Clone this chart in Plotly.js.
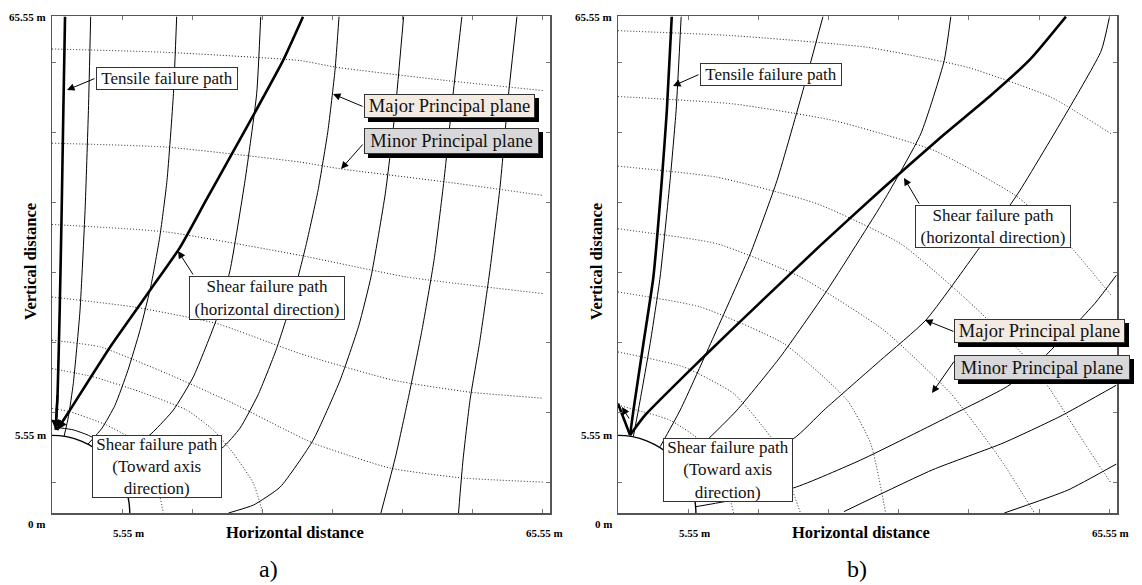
<!DOCTYPE html>
<html>
<head>
<meta charset="utf-8">
<script src="https://cdn.plot.ly/plotly-3.0.1.min.js"></script>
<style>html,body{margin:0;padding:0;background:#fff;}#chart{width:1142px;height:585px;}</style>
</head>
<body>
<div id="chart"></div>
<script>
// ---------- data (metres) ----------
const tunnelRadius = 5.55;
const axisMax = 35.55;
const tickLabelsX = ["0 m", "5.55 m", "65.55 m"];
const tickLabelsY = ["5.55 m", "65.55 m"];
const panelLabels = ["a)", "b)"];

// Panel a : major principal planes (solid)
const aTensileX = [0.93, 0.81, 0.69, 0.55, 0.40, 0.26];
const aTensileY = [35.5, 28.79, 21.64, 14.5, 8.55, 5.95];
const aShearX = [17.92, 16.49, 14.56, 12.85, 10.99, 9.14, 7.0, 4.14, 1.28, 0.36];
const aShearY = [35.5, 32.36, 28.79, 25.71, 22.36, 19.0, 15.93, 11.86, 7.36, 5.93];
const aMaj2X = [2.76, 2.60, 2.36, 2.0, 1.52, 1.17, 0.86];
const aMaj2Y = [35.5, 28.79, 21.64, 14.5, 9.26, 6.88, 5.48];
const aMaj3X = [8.9, 8.67, 8.21, 7.71, 7.07, 6.28, 5.42, 4.5, 3.57, 2.57];
const aMaj3Y = [35.5, 30.0, 23.79, 19.86, 16.29, 13.07, 10.21, 7.71, 6.07, 4.93];
const aMaj4X = [14.9, 14.61, 13.78, 12.71, 11.76, 10.09, 8.66, 7.23, 5.21, 3.95];
const aMaj4Y = [35.5, 29.98, 23.79, 17.36, 13.91, 9.74, 7.36, 5.81, 4.14, 3.9];
const aMaj5X = [20.49, 20.2, 19.7, 18.99, 18.13, 17.13, 15.99, 14.7, 13.42, 12.13, 8.42, 5.0];
const aMaj5Y = [35.5, 31.64, 27.36, 23.07, 19.14, 15.21, 11.64, 8.43, 6.07, 4.64, 2.93, 2.36];
const aMaj6X = [25.1, 24.5, 23.79, 22.78, 21.91, 20.57, 18.64, 16.29, 14.38, 12.6];
const aMaj6Y = [35.5, 28.79, 22.83, 16.93, 13.43, 9.5, 5.21, 1.86, 0.57, 0.0];
const aMaj7X = [29.26, 28.62, 27.98, 27.27, 26.41, 25.48, 24.55, 23.48];
const aMaj7Y = [35.5, 29.86, 23.79, 18.07, 13.07, 8.43, 4.14, 0.0];
const aMaj8X = [33.19, 32.58, 31.98, 31.26, 30.55, 29.84, 29.34, 29.02];
const aMaj8Y = [35.5, 29.86, 23.29, 17.36, 12.36, 8.07, 3.79, 0.0];
// Panel a : minor principal planes (dotted)
const aMin1X = [0, 8.19, 17.71, 20.33, 28.19, 35.1];
const aMin1Y = [33.19, 32.95, 32.36, 31.88, 30.93, 30.21];
const aMin2X = [0, 8.19, 17.71, 20.57, 28.19, 35.1];
const aMin2Y = [26.45, 26.17, 25.1, 24.62, 23.67, 22.71];
const aMin3X = [0, 8.19, 17.71, 25.33, 35.1];
const aMin3Y = [20.64, 20.1, 18.43, 16.88, 15.69];
const aMin4X = [0, 5.81, 11.76, 17.71, 24.36, 29.86, 35.07];
const aMin4Y = [15.45, 14.74, 13.55, 11.4, 9.5, 8.64, 8.21];
const aMin5X = [0, 3.43, 8.19, 12.95, 16.29, 18.64, 24.14, 29.36, 35.07];
const aMin5Y = [12.36, 11.88, 9.98, 7.83, 6.14, 5.0, 3.21, 2.5, 2.21];
const aMin6X = [0, 2.95, 6.29, 9.62, 11.52, 12.95, 14.38, 15.05];
const aMin6Y = [10.33, 9.74, 8.67, 7.36, 5.93, 4.26, 2.12, 0.0];
const aMin7X = [0, 1.29, 3.9, 5.81, 7.0, 7.6, 7.95];
const aMin7Y = [7.48, 7.24, 6.29, 5.21, 3.55, 1.64, 0.0];
// Panel a : path drawn just outside the crown of the tunnel
const aCrownX = [0.5, 1.5, 2.5, 3.3];
const aCrownY = [6.1, 5.95, 5.6, 5.2];

// Panel b : major principal planes (solid)
const bTensileX = [3.83, 3.48, 3.12, 2.52, 1.81, 1.10, 0.86];
const bTensileY = [35.5, 28.79, 23.79, 16.88, 12.12, 7.36, 5.57];
const bTensile2X = [4.5, 4.14, 3.71, 3.0, 2.29, 1.45, 1.10];
const bTensile2Y = [35.5, 28.79, 23.79, 16.88, 12.12, 7.36, 5.5];
const bShearX = [0.86, 1.93, 5.85, 10.14, 14.42, 18.7, 22.98, 26.55, 29.41, 31.91];
const bShearY = [5.57, 7.0, 10.93, 15.07, 19.14, 23.07, 26.86, 29.86, 32.5, 35.5];
const bCrownX = [0.0, 0.86];
const bCrownY = [7.83, 5.57];
const bMaj3X = [14.6, 13.24, 11.33, 9.43, 6.81, 4.43, 3.0];
const bMaj3Y = [35.5, 30.45, 23.79, 18.55, 12.6, 7.36, 4.74];
const bMaj4X = [23.71, 23.24, 21.57, 18.95, 14.9, 11.57, 8.48, 6.33, 4.24];
const bMaj4Y = [35.5, 32.36, 27.12, 22.36, 15.93, 11.17, 7.36, 5.21, 3.57];
const bMaj5X = [35.02, 34.43, 32.05, 28.48, 25.62, 21.93, 18.71, 14.67, 12.52, 5.14];
const bMaj5Y = [35.5, 33.07, 28.79, 22.83, 18.79, 13.79, 10.93, 7.36, 5.33, 2.12];
const bMaj6X = [35.5, 33.98, 30.4, 27.76, 23.76, 17.29, 12.52, 5.55];
const bMaj6Y = [17.0, 15.0, 11.21, 9.07, 7.0, 3.79, 1.8, 0.45];
const bMaj7X = [35.5, 31.48, 27.43, 22.43, 16.1];
const bMaj7Y = [9.14, 6.9, 5.0, 3.1, 0.1];
const bMaj8X = [35.5, 32.05, 27.52];
const bMaj8Y = [3.5, 1.64, 0.0];
// Panel b : minor principal planes (dotted)
const bMin1X = [0, 8.24, 17.76, 24.9, 30.86, 35.14];
const bMin1Y = [34.5, 34.14, 33.31, 31.88, 29.74, 27.12];
const bMin2X = [0, 8.24, 15.38, 22.52, 28.48, 32.05, 35.14];
const bMin2Y = [29.79, 29.26, 28.07, 25.93, 22.6, 19.26, 15.57];
const bMin3X = [0, 7.05, 14.19, 20.14, 24.9, 29.67, 33.24, 35.14];
const bMin3Y = [24.81, 24.02, 22.12, 19.26, 15.21, 10.45, 4.98, 2.12];
const bMin4X = [0, 7.05, 13.0, 18.95, 23.71, 27.29, 29.67];
const bMin4Y = [20.33, 19.26, 16.88, 13.07, 8.55, 3.79, 0.0];
const bMin5X = [0, 5.86, 11.81, 16.33, 18.0, 19.07];
const bMin5Y = [15.81, 14.74, 12.12, 8.07, 4.98, 0.0];
const bMin6X = [0, 4.67, 8.24, 10.86, 11.81, 13.0];
const bMin6Y = [11.52, 10.45, 8.55, 5.45, 3.31, 0.0];
const bMin7X = [0, 3.71, 6.1, 7.52, 8.24];
const bMin7Y = [7.71, 6.64, 4.98, 2.6, 0.0];

// ---------- traces ----------
const traces = [];
function addLine(x, y, ax, kind) {
  const st = {
    thin: {color: '#000', width: 1, dash: 'solid'},
    thick: {color: '#000', width: 2.6, dash: 'solid'},
    dot: {color: '#1a1a1a', width: 1, dash: '1px,2px'}
  }[kind];
  traces.push({
    type: 'scatter', mode: 'lines', x: x, y: y,
    xaxis: ax === 'a' ? 'x' : 'x2', yaxis: ax === 'a' ? 'y' : 'y2',
    line: {color: st.color, width: st.width, dash: st.dash, shape: 'spline', smoothing: 0.5},
    hoverinfo: 'skip', showlegend: false
  });
}
[[aMin1X,aMin1Y],[aMin2X,aMin2Y],[aMin3X,aMin3Y],[aMin4X,aMin4Y],[aMin5X,aMin5Y],[aMin6X,aMin6Y],[aMin7X,aMin7Y]]
  .forEach(p => addLine(p[0], p[1], 'a', 'dot'));
[[aMaj2X,aMaj2Y],[aMaj3X,aMaj3Y],[aMaj4X,aMaj4Y],[aMaj5X,aMaj5Y],[aMaj6X,aMaj6Y],[aMaj7X,aMaj7Y],[aMaj8X,aMaj8Y],[aCrownX,aCrownY]]
  .forEach(p => addLine(p[0], p[1], 'a', 'thin'));
addLine(aTensileX, aTensileY, 'a', 'thick');
addLine(aShearX, aShearY, 'a', 'thick');

[[bMin1X,bMin1Y],[bMin2X,bMin2Y],[bMin3X,bMin3Y],[bMin4X,bMin4Y],[bMin5X,bMin5Y],[bMin6X,bMin6Y],[bMin7X,bMin7Y]]
  .forEach(p => addLine(p[0], p[1], 'b', 'dot'));
[[bTensile2X,bTensile2Y],[bMaj3X,bMaj3Y],[bMaj4X,bMaj4Y],[bMaj5X,bMaj5Y],[bMaj6X,bMaj6Y],[bMaj7X,bMaj7Y],[bMaj8X,bMaj8Y]]
  .forEach(p => addLine(p[0], p[1], 'b', 'thin'));
addLine(bTensileX, bTensileY, 'b', 'thick');
addLine(bShearX, bShearY, 'b', 'thick');
addLine(bCrownX, bCrownY, 'b', 'thick');

// ---------- layout ----------
const W = 1142, H = 585;
const px = v => v / W, py = v => 1 - v / H;
function axisStyle(domain, anchor, isY) {
  return {
    domain: domain, anchor: anchor, range: [0, axisMax],
    showline: true, mirror: 'ticks', linecolor: '#555', linewidth: 1.5,
    ticks: 'inside', ticklen: 4, tickcolor: '#777', tickwidth: 1,
    tick0: isY ? 2.2 : 0, dtick: 5,
    showticklabels: false, showgrid: false, zeroline: false, fixedrange: true
  };
}
const serif = 'Liberation Serif';
const ann = [];
const shapes = [];
// box given by its pixel rectangle (left, top, right, bottom)
function box(text, l, t, r, b, bg, shadow, size) {
  const bw = 1, bp = 0;
  if (shadow) {
    shapes.push({type: 'rect', xref: 'paper', yref: 'paper', x0: px(l + 4), x1: px(r + 4), y0: py(b + 4), y1: py(t + 4),
      fillcolor: '#000', line: {width: 0}, layer: 'above'});
  }
  ann.push({xref: 'paper', yref: 'paper', x: px((l + r) / 2), y: py((t + b) / 2), xanchor: 'center', yanchor: 'middle',
    text: text, showarrow: false, width: (r - l) - 2 * (bw + bp), height: (b - t) - 2 * (bw + bp),
    font: {family: serif, size: size, color: '#111'}, borderpad: bp, borderwidth: bw,
    bgcolor: bg, bordercolor: '#333', align: 'center', valign: 'middle'});
}
// arrow from tail pixel to head pixel
function arrow(tx, ty, hx, hy) {
  ann.push({xref: 'paper', yref: 'paper', x: px(hx), y: py(hy), ax: tx - hx, ay: ty - hy, axref: 'pixel', ayref: 'pixel',
    text: '', showarrow: true, arrowhead: 2, arrowsize: 1.5, arrowwidth: 1, arrowcolor: '#000'});
}
// data-space arrowheads at the end of the thick failure paths
function dataArrow(ax, x, y) {
  const n = x.length;
  const xr = ax === 'a' ? 'x' : 'x2', yr = ax === 'a' ? 'y' : 'y2';
  ann.push({xref: xr, yref: yr, axref: xr, ayref: yr, x: x[n - 1], y: y[n - 1], ax: x[n - 2], ay: y[n - 2], text: '',
    showarrow: true, arrowhead: 2, arrowsize: 0.9, arrowwidth: 2.2, arrowcolor: '#000'});
}
// panel a
box('Tensile failure path', 96, 67, 238, 90, '#fff', false, 17);
arrow(96, 78, 67, 90);
box('Major Principal plane', 364, 94, 535, 118, '#f3ebe2', true, 18.5);
arrow(364, 107, 333, 94);
box('Minor Principal plane', 364, 128, 539, 154, '#d8d8da', true, 18.5);
arrow(364, 143, 341, 169);
box('Shear failure path<br>(horizontal direction)', 189, 276, 345, 320, '#fff', false, 17);
arrow(194, 276, 178, 251);
box('Shear failure path<br>(Toward axis<br>direction)', 92, 435, 222, 498, '#fff', false, 17);
dataArrow('a', aTensileX, aTensileY);
dataArrow('a', aShearX, aShearY);
// panel b
box('Tensile failure path', 700, 63, 842, 86, '#fff', false, 17);
arrow(700, 74, 673, 86);
box('Shear failure path<br>(horizontal direction)', 915, 205, 1071, 248, '#fff', false, 17);
arrow(920, 205, 904, 178);
box('Major Principal plane', 954, 319, 1125, 343, '#f3ebe2', true, 18.5);
arrow(955, 332, 925, 320);
box('Minor Principal plane', 954, 355, 1130, 380, '#d8d8da', true, 18.5);
arrow(955, 360, 932, 393);
box('Shear failure path<br>(Toward axis<br>direction)', 663, 438, 793, 502, '#fff', false, 17);
arrow(630, 420, 622, 407);

// axis texts
function txt(t, x, y, size, bold, angle, xanchor) {
  ann.push({xref: 'paper', yref: 'paper', x: px(x), y: py(y), text: bold ? '<b>' + t + '</b>' : t,
    showarrow: false, font: {family: serif, size: size, color: '#000'}, textangle: angle || 0,
    xanchor: xanchor || 'center', yanchor: 'middle'});
}
[[0, 0, 268], [566, 1, 857]].forEach(([off, i, lx]) => {
  txt(tickLabelsY[1], 48 + off, 17, 11, true, 0, 'right');
  txt(tickLabelsY[0], 48 + off, 435, 11, true, 0, 'right');
  txt(tickLabelsX[0], 37 + off, 524, 11, true);
  txt(tickLabelsX[1], 128 + off, 533, 11, true);
  txt(tickLabelsX[2], 544 + off, 533, 11, true);
  txt('Horizontal distance', 295 + off, 532, 16.5, true);
  txt('Vertical distance', 30 + off, 262, 16.5, true, -90);
  txt(panelLabels[i], lx, 569, 24, false);
});

shapes.push(
  {type: 'circle', xref: 'x', yref: 'y', x0: -tunnelRadius, y0: -tunnelRadius, x1: tunnelRadius, y1: tunnelRadius, line: {color: '#000', width: 1.4}, layer: 'below'},
  {type: 'circle', xref: 'x2', yref: 'y2', x0: -tunnelRadius, y0: -tunnelRadius, x1: tunnelRadius, y1: tunnelRadius, line: {color: '#000', width: 1.4}, layer: 'below'}
);

const layout = {
  width: W, height: H, margin: {l: 0, r: 0, t: 0, b: 0},
  paper_bgcolor: '#fff', plot_bgcolor: 'rgba(0,0,0,0)', showlegend: false,
  xaxis: axisStyle([px(52), px(550)], 'y', false),
  yaxis: axisStyle([py(513), py(16)], 'x', true),
  xaxis2: axisStyle([px(618), px(1117)], 'y2', false),
  yaxis2: axisStyle([py(513), py(16)], 'x2', true),
  annotations: ann, shapes: shapes
};
Plotly.newPlot('chart', traces, layout, {displayModeBar: false, staticPlot: true});
</script>
</body>
</html>
